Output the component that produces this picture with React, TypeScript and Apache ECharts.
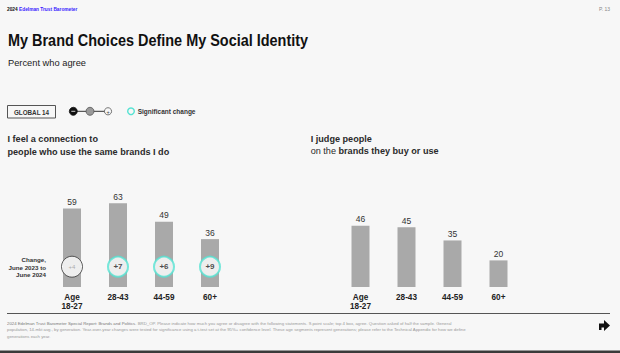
import React, { useEffect, useRef } from "react";
import * as echarts from "echarts";

const CATEGORIES = ["Age\n18-27", "28-43", "44-59", "60+"];
const CONNECTION_VALUES = [59, 63, 49, 36];
const JUDGE_VALUES = [46, 45, 35, 20];
const CHANGE_VALUES = [4, 7, 6, 9];
const CHANGE_SIGNIFICANT = [false, true, true, true];

const FONT = "'Liberation Sans', Arial, Helvetica, sans-serif";
const BAR_COLOR = "#a9a9a9";
const TEAL = "#55e2d2";
const FOOTNOTE_LINES = [
  "BRD_OP. Please indicate how much you agree or disagree with the following statements. 9-point scale; top 4 box, agree. Question asked of half the sample. General",
  "population, 14-mkt avg., by generation. Year-over-year changes were tested for significance using a t-test set at the 95%+ confidence level. These age segments represent generations; please refer to the Technical Appendix for how we define",
  "generations each year.",
];

export default function App() {
  const ref = useRef<HTMLDivElement>(null);
  useEffect(() => {
    if (!ref.current) return;
    const chart = echarts.init(ref.current, null, { renderer: "svg" });

    const catAxisLabel = {
      fontFamily: FONT,
      fontSize: 8.2,
      fontWeight: "bold" as const,
      color: "#222",
      lineHeight: 8.7,
      margin: 6.5,
      interval: 0,
    };

    const barLabel = {
      show: true,
      position: "top" as const,
      distance: 2,
      fontFamily: FONT,
      fontSize: 8.5,
      color: "#333",
    };

    const changeData = CHANGE_VALUES.map((c, i) => {
      const sig = CHANGE_SIGNIFICANT[i];
      return {
        value: [CATEGORIES[i], 0],
        symbolSize: sig ? 20 : 21,
        itemStyle: {
          color: "#ffffff",
          borderColor: sig ? TEAL : "#333",
          borderWidth: sig ? 2 : 1,
        },
        label: {
          show: true,
          position: "inside" as const,
          formatter: "+" + c,
          fontFamily: FONT,
          fontSize: sig ? 8 : 6,
          fontWeight: sig ? ("bold" as const) : ("normal" as const),
          color: sig ? "#222" : "#999",
        },
      };
    });

    const option: any = {
      animation: false,
      backgroundColor: "#f7f7f7",
      textStyle: { fontFamily: FONT },
      grid: [
        { left: 49, top: 154, width: 184, height: 133 },
        { left: 337.5, top: 154, width: 184, height: 133 },
        { left: 49, top: 255.7, width: 184, height: 22 },
      ],
      xAxis: [
        {
          type: "category",
          gridIndex: 0,
          data: CATEGORIES,
          axisLine: { show: false },
          axisTick: { show: false },
          axisLabel: catAxisLabel,
        },
        {
          type: "category",
          gridIndex: 1,
          data: CATEGORIES,
          axisLine: { show: false },
          axisTick: { show: false },
          axisLabel: catAxisLabel,
        },
        { type: "category", gridIndex: 2, data: CATEGORIES, show: false },
      ],
      yAxis: [
        { type: "value", gridIndex: 0, min: 0, max: 100, show: false },
        { type: "value", gridIndex: 1, min: 0, max: 100, show: false },
        { type: "value", gridIndex: 2, min: -1, max: 1, show: false },
      ],
      series: [
        {
          type: "bar",
          xAxisIndex: 0,
          yAxisIndex: 0,
          data: CONNECTION_VALUES,
          barWidth: 18,
          itemStyle: { color: BAR_COLOR },
          label: barLabel,
        },
        {
          type: "bar",
          xAxisIndex: 1,
          yAxisIndex: 1,
          data: JUDGE_VALUES,
          barWidth: 18,
          itemStyle: { color: BAR_COLOR },
          label: barLabel,
        },
        {
          type: "scatter",
          xAxisIndex: 2,
          yAxisIndex: 2,
          symbol: "circle",
          data: changeData,
          z: 5,
        },
      ],
      graphic: [
        // header
        {
          type: "text",
          x: 7,
          y: 9,
          style: {
            text: "{a|2024 }{b|Edelman Trust Barometer}",
            verticalAlign: "middle",
            rich: {
              a: { fontFamily: FONT, fontSize: 4.8, fontWeight: "bold", fill: "#111" },
              b: { fontFamily: FONT, fontSize: 4.8, fontWeight: "bold", fill: "#3a1cff" },
            },
          },
        },
        {
          type: "text",
          x: 610,
          y: 9,
          style: {
            text: "P. 13",
            align: "right",
            verticalAlign: "middle",
            fontFamily: FONT,
            fontSize: 5,
            fill: "#888",
          },
        },
        // title
        {
          type: "text",
          x: 8,
          y: 40,
          scaleX: 0.85,
          style: {
            text: "My Brand Choices Define My Social Identity",
            verticalAlign: "middle",
            fontFamily: FONT,
            fontSize: 17,
            fontWeight: "bold",
            fill: "#111",
          },
        },
        {
          type: "text",
          x: 8,
          y: 63,
          style: {
            text: "Percent who agree",
            verticalAlign: "middle",
            fontFamily: FONT,
            fontSize: 9.3,
            fill: "#222",
          },
        },
        // legend row
        {
          type: "rect",
          shape: { x: 7.5, y: 105.5, width: 48, height: 12.5 },
          style: { fill: "#f7f7f7", stroke: "#555", lineWidth: 1 },
        },
        {
          type: "text",
          x: 31.5,
          y: 112,
          style: {
            text: "GLOBAL 14",
            align: "center",
            verticalAlign: "middle",
            fontFamily: FONT,
            fontSize: 6.3,
            fontWeight: "bold",
            fill: "#333",
          },
        },
        {
          type: "line",
          shape: { x1: 73, y1: 111.3, x2: 108, y2: 111.3 },
          style: { stroke: "#333", lineWidth: 1 },
        },
        {
          type: "circle",
          shape: { cx: 73.3, cy: 111.3, r: 4 },
          style: { fill: "#111", stroke: "#111", lineWidth: 0.8 },
        },
        {
          type: "line",
          shape: { x1: 71.3, y1: 111.3, x2: 75.3, y2: 111.3 },
          style: { stroke: "#fff", lineWidth: 0.8 },
        },
        {
          type: "circle",
          shape: { cx: 90, cy: 111.3, r: 4 },
          style: { fill: "#9a9a9a", stroke: "#555", lineWidth: 0.8 },
        },
        {
          type: "circle",
          shape: { cx: 108, cy: 111.3, r: 3.6 },
          style: { fill: "#f7f7f7", stroke: "#555", lineWidth: 0.8 },
        },
        {
          type: "text",
          x: 108,
          y: 111.5,
          style: {
            text: "+",
            align: "center",
            verticalAlign: "middle",
            fontFamily: FONT,
            fontSize: 5.5,
            fill: "#444",
          },
        },
        {
          type: "circle",
          shape: { cx: 131, cy: 111.3, r: 3.3 },
          style: { fill: "#f7f7f7", stroke: TEAL, lineWidth: 1.4 },
        },
        {
          type: "text",
          x: 137.7,
          y: 111.5,
          style: {
            text: "Significant change",
            verticalAlign: "middle",
            fontFamily: FONT,
            fontSize: 6.5,
            fontWeight: "bold",
            fill: "#333",
          },
        },
        // subheads
        {
          type: "text",
          x: 7.5,
          y: 145.4,
          style: {
            text: "I feel a connection to\npeople who use the same brands I do",
            verticalAlign: "middle",
            lineHeight: 12.8,
            fontFamily: FONT,
            fontSize: 9.1,
            fontWeight: "bold",
            fill: "#2a2a2a",
          },
        },
        {
          type: "text",
          x: 310.7,
          y: 144.8,
          style: {
            text: "{b|I judge people}\n{r|on the }{b|brands they buy or use}",
            verticalAlign: "middle",
            rich: {
              b: { fontFamily: FONT, fontSize: 9.1, fontWeight: "bold", fill: "#2a2a2a", lineHeight: 11.5 },
              r: { fontFamily: FONT, fontSize: 9.1, fill: "#2a2a2a", lineHeight: 11.5 },
            },
          },
        },
        // change caption
        {
          type: "text",
          x: 46,
          y: 267,
          style: {
            text: "Change,\nJune 2023 to\nJune 2024",
            align: "right",
            verticalAlign: "middle",
            lineHeight: 7.7,
            fontFamily: FONT,
            fontSize: 6.2,
            fontWeight: "bold",
            fill: "#333",
          },
        },
        // divider
        {
          type: "line",
          shape: { x1: 7, y1: 313.5, x2: 610, y2: 313.5 },
          style: { stroke: "#555", lineWidth: 1 },
        },
        // footnote
        {
          type: "text",
          x: 7,
          y: 329.9,
          style: {
            text:
              "{d|2024 Edelman Trust Barometer Special Report: Brands and Politics. }{n|" +
              FOOTNOTE_LINES[0] +
              "}\n{n|" +
              FOOTNOTE_LINES[1] +
              "}\n{n|" +
              FOOTNOTE_LINES[2] +
              "}",
            verticalAlign: "middle",
            rich: {
              d: { fontFamily: FONT, fontSize: 4.3, fill: "#777", lineHeight: 6.6 },
              n: { fontFamily: FONT, fontSize: 4.3, fill: "#999", lineHeight: 6.6 },
            },
          },
        },
        // arrow icon
        {
          type: "polygon",
          shape: {
            points: [
              [599, 323.5],
              [604, 323.5],
              [604, 320],
              [610, 325.5],
              [604, 331],
              [604, 327.5],
              [601.5, 327.5],
              [601.5, 330],
              [599, 330],
            ],
          },
          style: { fill: "#111" },
        },
        // bottom band
        {
          type: "rect",
          shape: { x: 0, y: 350.5, width: 620, height: 2.5 },
          style: { fill: "#3a3a3a" },
        },
      ],
    };

    chart.setOption(option);
    return () => chart.dispose();
  }, []);

  return (
    <div
      ref={ref}
      style={{ position: "absolute", left: 0, top: 0, width: 620, height: 353 }}
    />
  );
}
